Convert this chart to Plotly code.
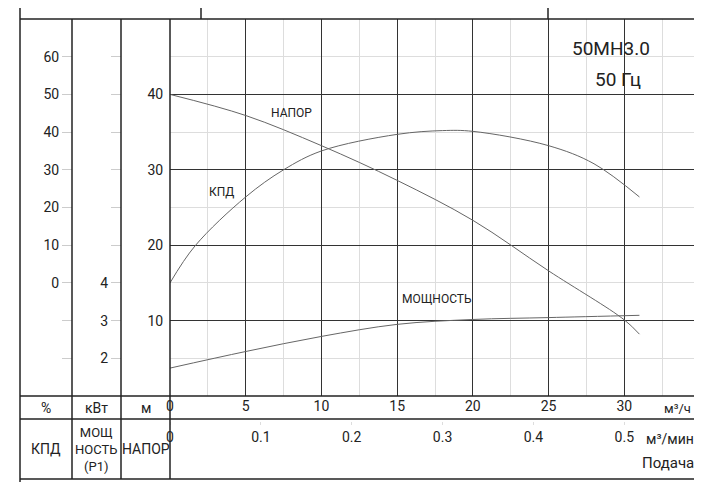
import plotly.graph_objects as go

flow_head = [0, 5, 10, 15, 20, 25, 30, 31]
head_m = [40, 37.2, 33.2, 28.6, 23.3, 16.6, 10.1, 8.2]
flow_eff = [0, 1.65, 5, 7.5, 10, 15, 18, 20, 25, 28, 31]
eff_pct = [0, 9.8, 22.8, 30, 35, 39.4, 40.4, 40.2, 36.4, 31.6, 22.8]
flow_pow = [0, 5, 10, 15, 20, 25, 31]
power_kw = [1.74, 2.18, 2.58, 2.9, 3.03, 3.08, 3.14]
flow_min_ticks = [0, 0.1, 0.2, 0.3, 0.4, 0.5]

W, H = 702, 482
def px(x): return x / W
def py(y): return 1 - y / H

FONT = "Liberation Sans Narrow, Roboto, sans-serif"
LC = "#666"
fig = go.Figure()
fig.add_trace(go.Scatter(x=flow_head, y=head_m, mode="lines", line=dict(color=LC, width=1, shape="spline"), xaxis="x", yaxis="y"))
fig.add_trace(go.Scatter(x=flow_eff, y=eff_pct, mode="lines", line=dict(color=LC, width=1, shape="spline"), xaxis="x", yaxis="y2"))
fig.add_trace(go.Scatter(x=flow_pow, y=power_kw, mode="lines", line=dict(color=LC, width=1, shape="spline"), xaxis="x", yaxis="y3"))
fig.add_trace(go.Scatter(x=flow_min_ticks, y=[None]*6, mode="markers", xaxis="x2", yaxis="y", hoverinfo="skip"))

x0, x1, yt, yb = 162, 692, 11, 388
common_y = dict(showgrid=False, zeroline=False, ticks="outside", tickcolor="#ccc", ticklen=10, automargin=False,
                tickfont=dict(family=FONT, size=14, color="#222"), fixedrange=True)
fig.update_layout(
    width=W, height=H, margin=dict(l=0, r=0, t=0, b=0, pad=0, autoexpand=False), showlegend=False,
    paper_bgcolor="white", plot_bgcolor="white",
    xaxis=dict(domain=[px(x0), px(x1)], range=[0, 35], tickvals=[0, 5, 10, 15, 20, 25, 30], automargin=False,
               showgrid=True, gridcolor="#333", gridwidth=1.2, zeroline=False,
               minor=dict(dtick=2.5, showgrid=True, gridcolor="#ddd", tick0=0),
               ticks="", tickfont=dict(family=FONT, size=14, color="#222"), anchor="y", side="bottom"),
    xaxis2=dict(range=[0, 35/60], tickvals=flow_min_ticks, overlaying="x", anchor="free", automargin=False,
                position=py(413), domain=[px(x0), px(x1)], ticks="outside", ticklen=3, tickcolor="#ddd",
                showgrid=False, zeroline=False, side="bottom", tickfont=dict(family=FONT, size=14, color="#222")),
    yaxis=dict(domain=[py(yb), py(yt)], range=[0, 50], tickvals=[10, 20, 30, 40], automargin=False,
               showgrid=True, gridcolor="#333", gridwidth=1.2, zeroline=False,
               minor=dict(dtick=5, showgrid=True, gridcolor="#ddd", tick0=0),
               ticks="outside", ticklen=3, tickcolor="white", tickfont=dict(family=FONT, size=14, color="#222")),
    yaxis2=dict(common_y, overlaying="y", anchor="free", position=px(64), range=[-30, 70],
                tickvals=[-20, -10, 0, 10, 20, 30, 40, 50, 60], ticktext=["", "", "0", "10", "20", "30", "40", "50", "60"]),
    yaxis3=dict(common_y, overlaying="y", anchor="free", position=px(113), range=[1, 11],
                tickvals=[2, 3, 4, 5, 6, 7, 8, 9, 10], ticktext=["2", "3", "4", "", "", "", "", "", ""]),
)

shapes = []
def L(xa, ya, xb, yb2, w=1.5):
    shapes.append(dict(type="line", xref="paper", yref="paper", x0=px(xa), y0=py(ya), x1=px(xb), y1=py(yb2),
                       line=dict(color="#222", width=w)))
L(12, 0, 12, 482); L(692, 0, 692, 482)
L(12, 11, 692, 11); L(193, 0, 193, 11); L(540, 0, 540, 11)
L(12, 388, 692, 388); L(12, 411, 692, 411); L(12, 471, 692, 471)
L(64, 11, 64, 471); L(113, 11, 113, 471); L(162, 11, 162, 471)
fig.update_layout(shapes=shapes)

def A(x, y, t, size=14, xa="center"):
    fig.add_annotation(x=px(x), y=py(y), xref="paper", yref="paper", text=t, showarrow=False,
                       font=dict(family=FONT, size=size, color="#222"), xanchor=xa, yanchor="middle")
A(38, 400, "%"); A(88, 400, "кВт"); A(138, 400, "м")
A(38, 441, "КПД"); A(88, 441, "МОЩ<br>НОСТЬ<br>(Р1)", 13); A(138, 441, "НАПОР")
A(654, 400, "м³/ч", 13, "left"); A(636, 431, "м³/мин", 14, "left"); A(660, 455, "Подача", 15)
A(603, 40, "50МН3.0", 19); A(610, 71, "50 Гц", 19)
def C(x, y, t):
    fig.add_annotation(x=x, y=y, xref="x", yref="y", text=t, showarrow=False,
                       font=dict(family=FONT, size=12, color="#222"))
C(8, 37.6, "НАПОР"); C(3.4, 27, "КПД"); C(17.6, 12.8, "МОЩНОСТЬ")

fig.write_html("out.html")
